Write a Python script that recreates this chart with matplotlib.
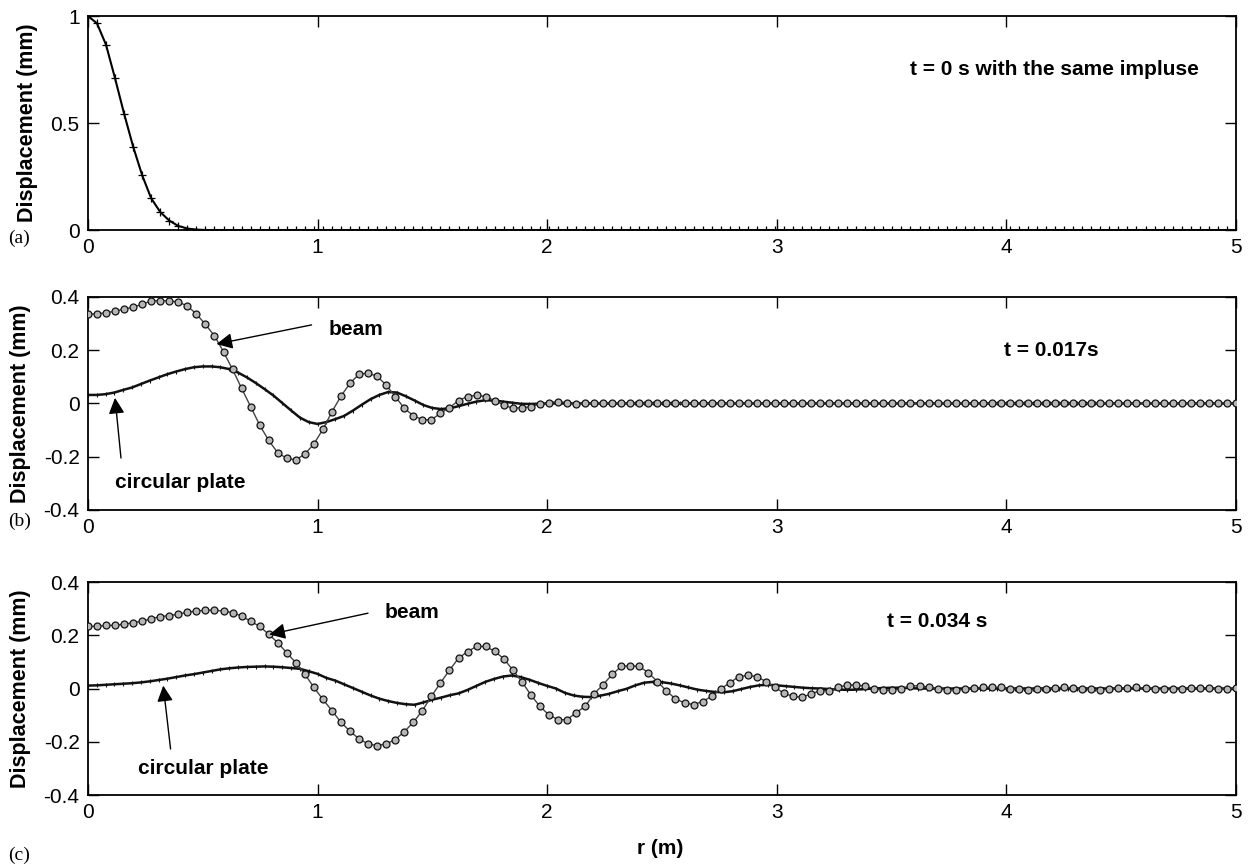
import numpy as np
import matplotlib
matplotlib.use("Agg")
import matplotlib.pyplot as plt

plt.rcParams['font.family'] = ['Liberation Sans', 'DejaVu Sans']

# radial positions (m): marker grid of the beam / impulse curves, and the
# denser sampling used for the plate curves
r = np.linspace(0, 5, 128)
r_plate = np.linspace(0, 5, 131)

# (a) initial displacement, t = 0 s
disp_t0 = [1.000, 0.966, 0.866, 0.709, 0.544, 0.390, 0.256, 0.148, 0.084,
           0.044, 0.019, 0.007, 0.002] + [0.0] * 115  # flat at zero beyond ~0.5 m

# (b) t = 0.017 s
beam_b = [0.336, 0.336, 0.341, 0.346, 0.355, 0.361, 0.373, 0.385, 0.386, 0.385,
          0.381, 0.366, 0.336, 0.297, 0.254, 0.194, 0.128, 0.057, -0.012, -0.081,
          -0.139, -0.185, -0.206, -0.212, -0.190, -0.152, -0.097, -0.031, 0.028, 0.076,
          0.110, 0.114, 0.102, 0.069, 0.026, -0.018, -0.046, -0.061, -0.061, -0.037,
          -0.016, 0.011, 0.026, 0.031, 0.026, 0.011, -0.006, -0.018, -0.016, -0.012,
          -0.002, 0.003, 0.007, 0.003, -0.002, 0.000] + [0.0] * 72
plate_b = [0.032, 0.032, 0.035, 0.041, 0.051, 0.060, 0.073, 0.086, 0.098, 0.110,
           0.120, 0.129, 0.136, 0.139, 0.139, 0.136, 0.129, 0.116, 0.098, 0.077,
           0.054, 0.030, 0.002, -0.026, -0.053, -0.070, -0.077, -0.070, -0.059, -0.047,
           -0.027, -0.005, 0.016, 0.032, 0.043, 0.041, 0.027, 0.011, -0.006, -0.017,
           -0.021, -0.018, -0.010, -0.001, 0.007, 0.012, 0.011, 0.007, 0.003, -0.001,
           -0.002, -0.001, 0.000] + [0.0] * 78

# (c) t = 0.034 s
beam_c = [0.233, 0.234, 0.237, 0.237, 0.242, 0.247, 0.253, 0.262, 0.270, 0.274,
          0.279, 0.287, 0.291, 0.294, 0.294, 0.291, 0.285, 0.272, 0.253, 0.233,
          0.204, 0.172, 0.134, 0.097, 0.054, 0.004, -0.041, -0.083, -0.127, -0.161,
          -0.189, -0.208, -0.214, -0.208, -0.192, -0.162, -0.127, -0.083, -0.029, 0.021,
          0.069, 0.114, 0.139, 0.158, 0.158, 0.140, 0.112, 0.070, 0.026, -0.024,
          -0.067, -0.099, -0.117, -0.117, -0.091, -0.067, -0.020, 0.015, 0.053, 0.083,
          0.086, 0.083, 0.059, 0.026, -0.009, -0.039, -0.054, -0.060, -0.049, -0.029,
          -0.001, 0.021, 0.045, 0.049, 0.045, 0.026, 0.005, -0.018, -0.029, -0.033,
          -0.020, -0.008, -0.008, 0.005, 0.013, 0.014, 0.008, 0.000, -0.006, -0.006,
          0.000, 0.009, 0.011, 0.005, -0.001, -0.004, -0.005, -0.003, 0.001, 0.004,
          0.005, 0.004, 0.000, -0.003, -0.004, -0.003, 0.000, 0.003, 0.004, 0.003,
          0.000, -0.003, -0.004, -0.002, 0.001, 0.003, 0.004, 0.002, -0.001, -0.003,
          -0.003, -0.001, 0.002, 0.003, 0.002, 0.000, -0.001, 0.001]
plate_c = [0.011, 0.012, 0.014, 0.016, 0.018, 0.020, 0.023, 0.027, 0.032, 0.037,
           0.043, 0.049, 0.054, 0.060, 0.066, 0.072, 0.076, 0.079, 0.081, 0.082,
           0.083, 0.082, 0.080, 0.077, 0.074, 0.065, 0.055, 0.040, 0.030, 0.016,
           0.002, -0.012, -0.026, -0.038, -0.047, -0.054, -0.059, -0.061, -0.052, -0.042,
           -0.034, -0.025, -0.018, -0.005, 0.010, 0.025, 0.036, 0.045, 0.049, 0.043,
           0.033, 0.021, 0.010, 0.000, -0.016, -0.026, -0.031, -0.032, -0.027, -0.020,
           -0.010, -0.001, 0.012, 0.022, 0.025, 0.024, 0.019, 0.012, 0.004, -0.004,
           -0.009, -0.013, -0.014, -0.010, -0.002, 0.006, 0.012, 0.014, 0.012, 0.009,
           0.006, 0.003, 0.001, 0.000, -0.002, -0.004, -0.005, -0.004, -0.002, 0.000,
           0.002, 0.003, 0.003, 0.002, 0.000] + [0.0] * 36

xticks = [0, 1, 2, 3, 4, 5]

fig = plt.figure(figsize=(12.56, 8.67), dpi=100)
ax_a = fig.add_axes([0.070, 0.7347, 0.914, 0.2468])
ax_b = fig.add_axes([0.070, 0.4118, 0.914, 0.2457])
ax_c = fig.add_axes([0.070, 0.0830, 0.914, 0.2457])

for ax in (ax_a, ax_b, ax_c):
    ax.set_xlim(0, 5)
    ax.set_xticks(xticks)
    ax.tick_params(direction='in', top=True, right=True, length=8, width=1,
                   labelsize=15, pad=6)
    for s in ax.spines.values():
        s.set_linewidth(1.3)
    ax.set_ylabel('Displacement (mm)', fontsize=15.5, fontweight='bold', labelpad=9)

# (a)
ax_a.plot(r, disp_t0, color='black', lw=1.5, marker='+', ms=6, mew=0.9)
ax_a.set_ylim(0, 1)
ax_a.set_yticks([0, 0.5, 1])
ax_a.set_yticklabels(['0', '0.5', '1'])
ax_a.text(3.58, 0.75, 't = 0 s with the same impluse', fontsize=15, fontweight='bold',
          va='center')

ylab = ['-0.4', '-0.2', '0', '0.2', '0.4']


def draw_pair(ax, beam, plate):
    ax.plot(r_plate, plate, color='#111111', lw=1.8, marker='|', ms=3, mew=0.8, zorder=2)
    ax.plot(r, beam, color='#444444', lw=1.0, marker='o', ms=5, mfc='#b5b5b5',
            mec='#111111', mew=0.9, zorder=3)
    ax.set_ylim(-0.4, 0.4)
    ax.set_yticks([-0.4, -0.2, 0, 0.2, 0.4])
    ax.set_yticklabels(ylab)


arrow = dict(arrowstyle='-|>', color='black', lw=1.0, mutation_scale=24,
             shrinkA=0, shrinkB=0)

# (b)
draw_pair(ax_b, beam_b, plate_b)
ax_b.text(3.99, 0.20, 't = 0.017s', fontsize=15, fontweight='bold', va='center')
ax_b.annotate('', xy=(0.56, 0.223), xytext=(0.974, 0.295), arrowprops=arrow)
ax_b.text(1.05, 0.276, 'beam', fontsize=15, fontweight='bold', va='center')
ax_b.annotate('', xy=(0.118, 0.021), xytext=(0.144, -0.205), arrowprops=arrow)
ax_b.text(0.118, -0.298, 'circular plate', fontsize=15, fontweight='bold', va='center')

# (c)
draw_pair(ax_c, beam_c, plate_c)
ax_c.text(3.48, 0.25, 't = 0.034 s', fontsize=15, fontweight='bold', va='center')
ax_c.annotate('', xy=(0.79, 0.203), xytext=(1.22, 0.283), arrowprops=arrow)
ax_c.text(1.29, 0.287, 'beam', fontsize=15, fontweight='bold', va='center')
ax_c.annotate('', xy=(0.328, 0.011), xytext=(0.36, -0.227), arrowprops=arrow)
ax_c.text(0.218, -0.30, 'circular plate', fontsize=15, fontweight='bold', va='center')

# panel letters and x label
for lab, y in (('(a)', 238), ('(b)', 521), ('(c)', 855)):
    fig.text(8 / 1256, 1 - y / 867, lab, fontsize=14, family='Liberation Serif',
             va='center', ha='left')
fig.text(660 / 1256, 1 - 848 / 867, 'r (m)', fontsize=15, fontweight='bold',
         ha='center', va='center')

fig.savefig('out.png', dpi=100)
